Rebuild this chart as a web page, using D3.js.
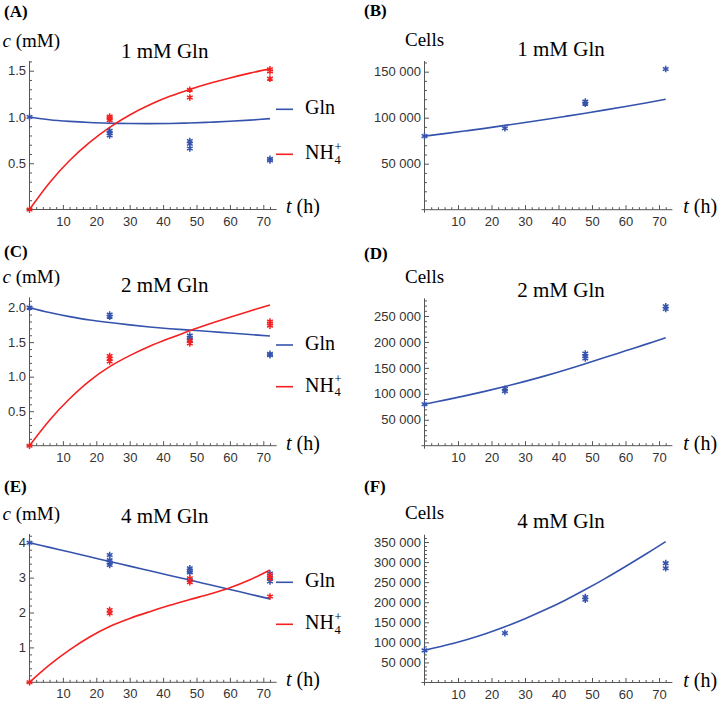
<!DOCTYPE html>
<html><head><meta charset="utf-8">
<script src="https://cdn.jsdelivr.net/npm/d3@7"></script>
<style>body{margin:0;background:#fff} svg{display:block}</style>
</head><body><svg id="c" width="720" height="705"></svg>
<script>
// ---------- DATA ----------
const tGrid = [0, 6, 12, 18, 24, 30, 36, 42, 48, 54, 60, 66, 72];

const fitA_Gln = [1.0, 0.97, 0.952, 0.94, 0.933, 0.929, 0.928, 0.93, 0.935, 0.943, 0.953, 0.966, 0.982];
const fitA_NH4 = [0, 0.29, 0.53, 0.726, 0.888, 1.022, 1.132, 1.223, 1.298, 1.364, 1.422, 1.474, 1.52];
const fitB_Cells = [80000, 82700, 85500, 88400, 91600, 94800, 98000, 101400, 104900, 108500, 112200, 116000, 120000];
const fitC_Gln = [2.0, 1.93, 1.87, 1.82, 1.785, 1.75, 1.72, 1.695, 1.675, 1.655, 1.632, 1.61, 1.59];
const fitC_NH4 = [0, 0.37, 0.68, 0.94, 1.145, 1.305, 1.44, 1.557, 1.667, 1.767, 1.862, 1.952, 2.04];
const fitD_Cells = [80000, 87800, 96000, 104700, 114000, 124000, 134600, 146000, 158000, 170300, 182800, 195300, 208000];
const fitE_Gln = [4.0, 3.867, 3.733, 3.6, 3.46, 3.33, 3.195, 3.06, 2.93, 2.795, 2.66, 2.525, 2.39];
const fitE_NH4 = [0, 0.5, 0.93, 1.3, 1.6, 1.83, 2.025, 2.205, 2.37, 2.53, 2.71, 2.94, 3.22];
const fitF_Cells = [80000, 92000, 105500, 121000, 139000, 159000, 181000, 205000, 231500, 259500, 289000, 319500, 351000];

const dataA_Gln = [[0,1.0],[24,0.85],[24,0.825],[24,0.80],[48,0.74],[48,0.71],[48,0.66],[72,0.547],[72,0.53]];
const dataA_NH4 = [[0,0],[24,1.005],[24,0.988],[24,0.966],[48,1.295],[48,1.21],[72,1.515],[72,1.493],[72,1.414]];
const dataB_Cells = [[0,80000],[24,88500],[48,117400],[48,115200],[72,152900]];
const dataC_Gln = [[0,2.0],[24,1.90],[24,1.87],[48,1.595],[48,1.565],[48,1.53],[72,1.33],[72,1.31]];
const dataC_NH4 = [[0,0],[24,1.30],[24,1.26],[24,1.22],[48,1.517],[48,1.48],[72,1.80],[72,1.77],[72,1.74]];
const dataD_Cells = [[0,80000],[24,109600],[24,105200],[48,177700],[48,172500],[48,168100],[72,268700],[72,263500]];
const dataE_Gln = [[0,4.0],[24,3.65],[24,3.50],[24,3.43],[24,3.36],[48,3.27],[48,3.20],[48,3.15],[48,2.93],[72,3.12],[72,3.0],[72,2.89]];
const dataE_NH4 = [[0,0],[24,2.07],[24,1.98],[48,2.98],[48,2.87],[72,3.07],[72,2.98],[72,2.46]];
const dataF_Cells = [[0,80000],[24,123100],[48,212700],[48,206000],[72,297300],[72,284800]];

const xTicks = [10, 20, 30, 40, 50, 60, 70];
const yTicksA = [0.5, 1.0, 1.5];           const yTickLabelsA = ["0.5", "1.0", "1.5"];
const yTicksB = [50000, 100000, 150000];   const yTickLabelsB = ["50 000", "100 000", "150 000"];
const yTicksC = [0.5, 1.0, 1.5, 2.0];      const yTickLabelsC = ["0.5", "1.0", "1.5", "2.0"];
const yTicksD = [50000, 100000, 150000, 200000, 250000];
const yTickLabelsD = ["50 000", "100 000", "150 000", "200 000", "250 000"];
const yTicksE = [1, 2, 3, 4];              const yTickLabelsE = ["1", "2", "3", "4"];
const yTicksF = [50000, 100000, 150000, 200000, 250000, 300000, 350000];
const yTickLabelsF = ["50 000", "100 000", "150 000", "200 000", "250 000", "300 000", "350 000"];

const titles = ["1 mM Gln", "1 mM Gln", "2 mM Gln", "2 mM Gln", "4 mM Gln", "4 mM Gln"];
const panelLabels = ["(A)", "(B)", "(C)", "(D)", "(E)", "(F)"];
const legendNames = ["Gln", "NH"];

// ---------- STYLE / LAYOUT ----------
const BLUE = "#3553ad", RED = "#f52020";
const AXIS = "#555", TICKTXT = "#333";
const SERIF = "'Liberation Serif','Times New Roman',serif";
const SANS = "'Liberation Sans',Arial,sans-serif";

const panels = [
  {lab:0, left:true, ox:29.5, axisY:209.5, yTop:61, ymax:1.605, minor:0.1,
   yT:yTicksA, yL:yTickLabelsA, labY:16.5, yLabY:46.7, titleY:57.7, tY:213, legY:[109.3,154.3],
   series:[{fit:fitA_Gln, data:dataA_Gln, c:BLUE},{fit:fitA_NH4, data:dataA_NH4, c:RED}]},
  {lab:1, left:false, ox:424.5, axisY:209.7, yTop:61, ymax:161600, minor:10000,
   yT:yTicksB, yL:yTickLabelsB, labY:16, yLabY:46, titleY:55.7, tY:213,
   series:[{fit:fitB_Cells, data:dataB_Cells, c:BLUE}]},
  {lab:2, left:true, ox:29.5, axisY:445.7, yTop:297.3, ymax:2.15, minor:0.1,
   yT:yTicksC, yL:yTickLabelsC, labY:256.7, yLabY:283.3, titleY:291.7, tY:449.7, legY:[345,386.7],
   series:[{fit:fitC_Gln, data:dataC_Gln, c:BLUE},{fit:fitC_NH4, data:dataC_NH4, c:RED}]},
  {lab:3, left:false, ox:424.5, axisY:445.7, yTop:298.3, ymax:284100, minor:10000,
   yT:yTicksD, yL:yTickLabelsD, labY:259.3, yLabY:283.3, titleY:296.7, tY:449.7,
   series:[{fit:fitD_Cells, data:dataD_Cells, c:BLUE}]},
  {lab:4, left:true, ox:29.5, axisY:682.3, yTop:534, ymax:4.25, minor:0.2,
   yT:yTicksE, yL:yTickLabelsE, labY:492.3, yLabY:520, titleY:523.3, tY:686.3, legY:[582.3,624.3],
   series:[{fit:fitE_Gln, data:dataE_Gln, c:BLUE},{fit:fitE_NH4, data:dataE_NH4, c:RED}]},
  {lab:5, left:false, ox:424.5, axisY:682.5, yTop:534.7, ymax:368200, minor:10000,
   yT:yTicksF, yL:yTickLabelsF, labY:492.3, yLabY:519, titleY:528.3, tY:686.5,
   series:[{fit:fitF_Cells, data:dataF_Cells, c:BLUE}]}
];

const svg = d3.select("#c");
const T_MAX = 74;

function starPath(r) {
  let d = "";
  [90, 30, 150].forEach(a => {
    const rad = a * Math.PI / 180, dx = r * Math.cos(rad), dy = r * Math.sin(rad);
    d += `M${(-dx).toFixed(2)},${(-dy).toFixed(2)}L${dx.toFixed(2)},${dy.toFixed(2)}`;
  });
  return d;
}
const STAR = starPath(3.3);

panels.forEach(p => {
  const pxPerT = p.left ? 3.34 : 3.35;
  const x = d3.scaleLinear().domain([0, T_MAX]).range([p.ox, p.ox + T_MAX * pxPerT]);
  const y = d3.scaleLinear().domain([0, p.ymax]).range([p.axisY, p.yTop]);
  const g = svg.append("g");

  // minor ticks (x)
  const xMinor = d3.range(2, 73, 2).filter(v => v % 10 !== 0);
  g.append("g").attr("transform", `translate(0,${p.axisY})`)
    .call(d3.axisBottom(x).tickValues(xMinor).tickFormat("").tickSizeInner(-2.5).tickSizeOuter(0))
    .call(a => a.select(".domain").remove())
    .call(a => a.selectAll("line").attr("stroke", AXIS));
  // major ticks (x)
  g.append("g").attr("transform", `translate(0,${p.axisY})`)
    .call(d3.axisBottom(x).tickValues(xTicks).tickSizeInner(-4.5).tickSizeOuter(0).tickPadding(6.8))
    .call(a => a.select(".domain").remove())
    .call(a => a.selectAll("line").attr("stroke", AXIS))
    .call(a => a.selectAll("text").attr("font-family", SANS).attr("font-size", 13).attr("fill", TICKTXT));

  // minor ticks (y)
  const nMinor = Math.floor(p.ymax / p.minor + 1e-6);
  const yMinor = d3.range(1, nMinor + 1).map(i => +(i * p.minor).toFixed(6))
    .filter(v => !p.yT.some(t => Math.abs(t - v) < p.minor / 10));
  g.append("g").attr("transform", `translate(${p.ox},0)`)
    .call(d3.axisLeft(y).tickValues(yMinor).tickFormat("").tickSizeInner(-2.5).tickSizeOuter(0))
    .call(a => a.select(".domain").remove())
    .call(a => a.selectAll("line").attr("stroke", AXIS));
  // major ticks (y)
  g.append("g").attr("transform", `translate(${p.ox},0)`)
    .call(d3.axisLeft(y).tickValues(p.yT).tickFormat((d, i) => p.yL[i]).tickSizeInner(-4.5).tickSizeOuter(0).tickPadding(3.5))
    .call(a => a.select(".domain").remove())
    .call(a => a.selectAll("line").attr("stroke", AXIS))
    .call(a => a.selectAll("text").attr("font-family", SANS).attr("font-size", 13).attr("fill", TICKTXT));

  // axis lines
  g.append("line").attr("x1", x(0) - 3).attr("x2", x(T_MAX)).attr("y1", y(0)).attr("y2", y(0))
    .attr("stroke", AXIS).attr("stroke-width", 1);
  g.append("line").attr("x1", x(0)).attr("x2", x(0)).attr("y1", y(0) + 3).attr("y2", y(p.ymax))
    .attr("stroke", AXIS).attr("stroke-width", 1);

  // fitted curves
  const line = d3.line().x((d, i) => x(tGrid[i])).y(d => y(d)).curve(d3.curveCatmullRom.alpha(0.5));
  p.series.forEach(s => {
    g.append("path").attr("d", line(s.fit)).attr("fill", "none")
      .attr("stroke", s.c).attr("stroke-width", 1.6);
  });
  // data stars
  p.series.forEach(s => {
    g.selectAll(null).data(s.data).enter().append("path")
      .attr("d", STAR)
      .attr("transform", d => `translate(${x(d[0])},${y(d[1])})`)
      .attr("fill", "none").attr("stroke", s.c).attr("stroke-width", 1.5);
  });

  // texts
  const colX = p.left ? 0 : 360;
  g.append("text").attr("x", colX + 4).attr("y", p.labY).text(panelLabels[p.lab])
    .attr("font-family", SERIF).attr("font-weight", "bold").attr("font-size", 17);
  g.append("text").attr("x", colX + 164.7 + (p.left ? 0 : 36.3)).attr("y", p.titleY)
    .attr("text-anchor", "middle").text(titles[p.lab])
    .attr("font-family", SERIF).attr("font-size", 21);
  if (p.left) {
    const yl = g.append("text").attr("x", 60).attr("y", p.yLabY).attr("text-anchor", "end")
      .attr("font-family", SERIF).attr("font-size", 19);
    yl.append("tspan").attr("font-style", "italic").text("c");
    yl.append("tspan").text(" (mM)");
  } else {
    g.append("text").attr("x", 405).attr("y", p.yLabY).text("Cells")
      .attr("font-family", SERIF).attr("font-size", 19);
  }
  const tl = g.append("text").attr("x", p.left ? 286 : 683.3).attr("y", p.tY)
    .attr("font-family", SERIF).attr("font-size", 20);
  tl.append("tspan").attr("font-style", "italic").text("t");
  tl.append("tspan").text(" (h)");

  // legend
  if (p.legY) {
    p.series.forEach((s, i) => {
      const ly = p.legY[i];
      g.append("line").attr("x1", 276).attr("x2", 293).attr("y1", ly).attr("y2", ly)
        .attr("stroke", s.c).attr("stroke-width", 1.6);
      const lt = g.append("text").attr("x", 305).attr("y", ly + 5)
        .attr("font-family", SERIF).attr("font-size", 20);
      lt.append("tspan").text(legendNames[i]);
      if (i === 1) {
        lt.append("tspan").attr("x", 334.5).attr("dy", 4.5).attr("font-size", 12.5).text("4");
        lt.append("tspan").attr("x", 334.5).attr("dy", -13).attr("font-size", 12.5).text("+");
      }
    });
  }
});
</script>
</body></html>
